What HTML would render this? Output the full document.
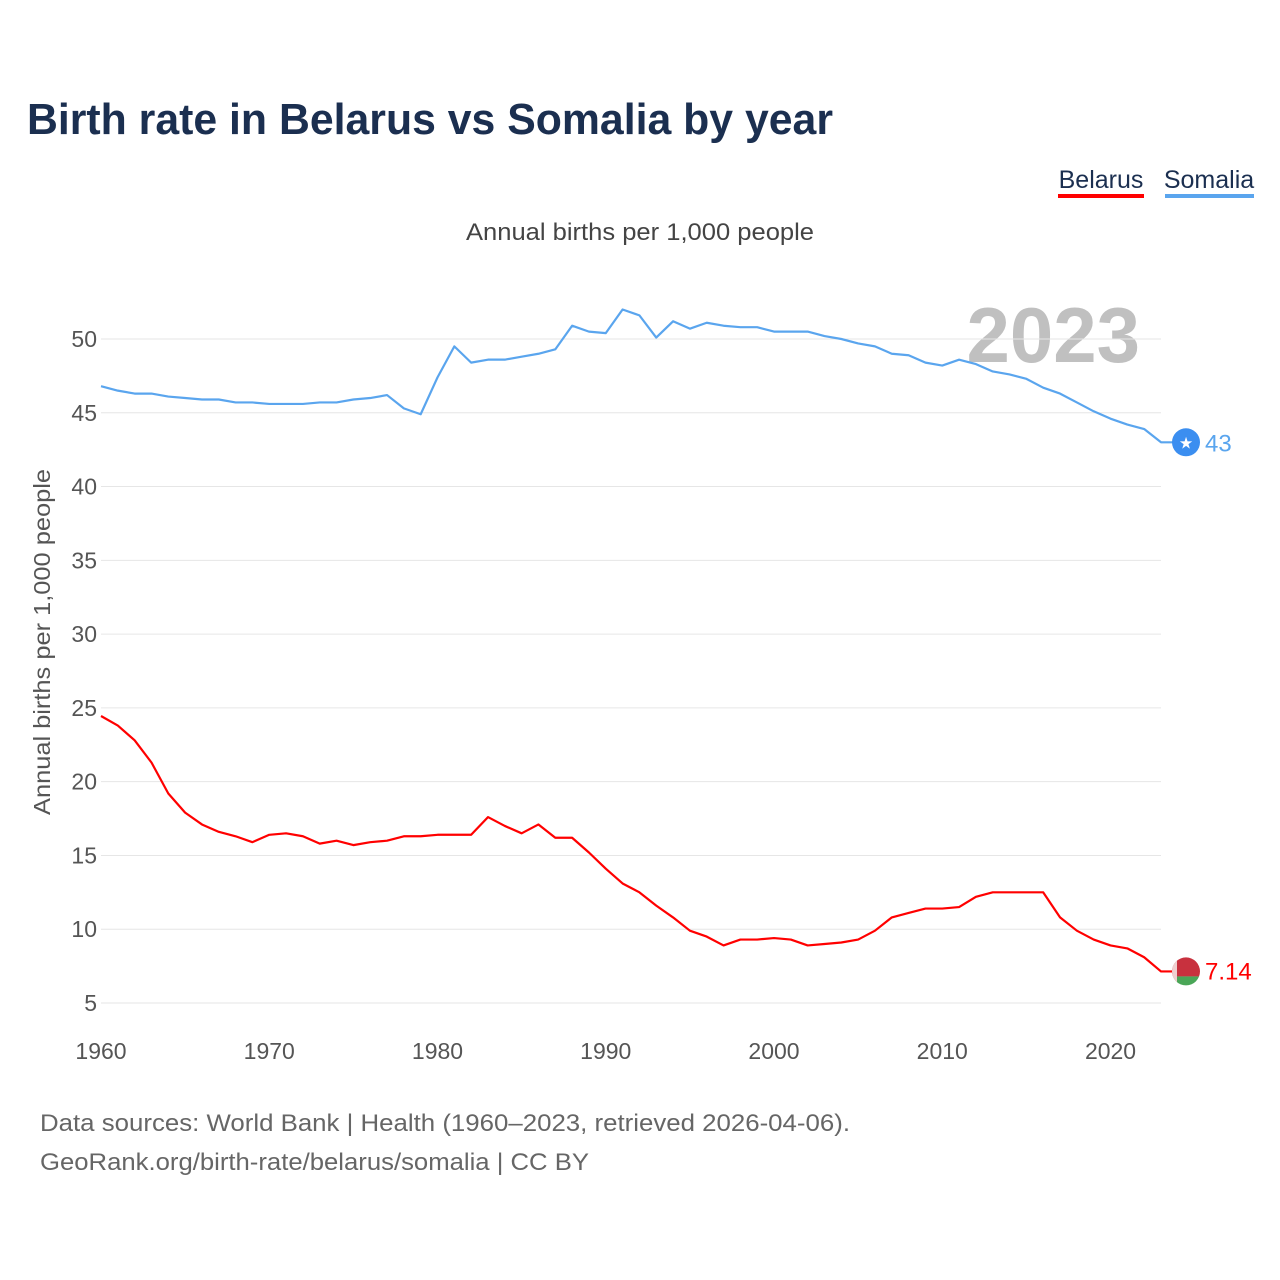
<!DOCTYPE html>
<html><head><meta charset="utf-8"><style>
body{margin:0;background:#fff;font-family:"Liberation Sans",sans-serif}
svg{display:block}
</style></head><body>
<svg id="chart" width="1280" height="1280" font-family="Liberation Sans, sans-serif">
<text x="27" y="134" font-size="44" font-weight="bold" fill="#1b2f50" textLength="806" lengthAdjust="spacingAndGlyphs">Birth rate in Belarus vs Somalia by year</text>
<g><text x="1101" y="188" font-size="25" fill="#1b2f50" text-anchor="middle">Belarus</text><rect x="1058" y="194" width="86" height="4" fill="#ff0000"/></g>
<g><text x="1209" y="188" font-size="25" fill="#1b2f50" text-anchor="middle">Somalia</text><rect x="1165" y="194" width="89" height="4" fill="#5aa5ee"/></g>
<text x="466" y="240" font-size="24" fill="#444" textLength="348" lengthAdjust="spacingAndGlyphs">Annual births per 1,000 people</text>
<text x="1140" y="362" font-size="78" font-weight="bold" fill="#c0c0c0" text-anchor="end">2023</text>
<text transform="translate(50,815) rotate(-90)" font-size="23" fill="#555" textLength="346" lengthAdjust="spacingAndGlyphs">Annual births per 1,000 people</text>
<g id="grid"></g><g id="series"></g>
<text x="40" y="1131" font-size="24" fill="#666" textLength="810" lengthAdjust="spacingAndGlyphs">Data sources: World Bank | Health (1960–2023, retrieved 2026-04-06).</text>
<text x="40" y="1170" font-size="24" fill="#666" textLength="549" lengthAdjust="spacingAndGlyphs">GeoRank.org/birth-rate/belarus/somalia | CC BY</text>
</svg>
<script>
const years=[];for(let y=1960;y<=2023;y++)years.push(y);
const somalia=[46.8,46.5,46.3,46.3,46.1,46.0,45.9,45.9,45.7,45.7,45.6,45.6,45.6,45.7,45.7,45.9,46.0,46.2,45.3,44.9,47.4,49.5,48.4,48.6,48.6,48.8,49.0,49.3,50.9,50.5,50.4,52.0,51.6,50.1,51.2,50.7,51.1,50.9,50.8,50.8,50.5,50.5,50.5,50.2,50.0,49.7,49.5,49.0,48.9,48.4,48.2,48.6,48.3,47.8,47.6,47.3,46.7,46.3,45.7,45.1,44.6,44.2,43.9,43.0];
const belarus=[24.45,23.8,22.8,21.3,19.2,17.9,17.1,16.6,16.3,15.9,16.4,16.5,16.3,15.8,16.0,15.7,15.9,16.0,16.3,16.3,16.4,16.4,16.4,17.6,17.0,16.5,17.1,16.2,16.2,15.2,14.1,13.1,12.5,11.6,10.8,9.9,9.5,8.9,9.3,9.3,9.4,9.3,8.9,9.0,9.1,9.3,9.9,10.8,11.1,11.4,11.4,11.5,12.2,12.5,12.5,12.5,12.5,10.8,9.9,9.3,8.9,8.7,8.1,7.14];
const yTicks=[5,10,15,20,25,30,35,40,45,50];
const xTicks=[1960,1970,1980,1990,2000,2010,2020];
const NS='http://www.w3.org/2000/svg';
const X=y=>101+(y-1960)*(1161-101)/63;
const Y=v=>339+(50-v)*(1003-339)/45;
const grid=document.getElementById('grid'),ser=document.getElementById('series');
function mk(t,a,p){const e=document.createElementNS(NS,t);for(const k in a)e.setAttribute(k,a[k]);p.appendChild(e);return e;}
yTicks.forEach(v=>{
 const l=mk('line',{x1:101,x2:1161,y1:Y(v),y2:Y(v),stroke:'#e6e6e6','stroke-width':1},grid);
 
 
 const t=mk('text',{x:97,y:Y(v)+8,'font-size':23,fill:'#555','text-anchor':'end'},grid);t.textContent=v;
 
 
});
xTicks.forEach(v=>{
 const t=mk('text',{x:X(v),y:1059,'font-size':23,fill:'#555','text-anchor':'middle'},grid);t.textContent=v;
 
 
});
function line(data,color,name){
 const p=mk('polyline',{points:data.map((v,i)=>X(years[i])+','+Y(v)).join(' ')+' '+(X(2023)+12)+','+Y(data[data.length-1]),fill:'none',stroke:color,'stroke-width':2.2,'stroke-linejoin':'round'},ser);
 
 
}
line(somalia,'#5aa5ee','somalia-line');
line(belarus,'#ff0000','belarus-line');
const ls=somalia[somalia.length-1],lb=belarus[belarus.length-1];
const c1=mk('circle',{cx:1186,cy:Y(ls),r:14,fill:'#3b8ef0'},ser);


const st=mk('text',{x:1186,y:Y(ls)+6,'font-size':16,fill:'#fff','text-anchor':'middle'},ser);st.textContent='★';
const v1=mk('text',{x:1205,y:Y(ls)+9,'font-size':24,fill:'#5aa5ee'},ser);v1.textContent=ls;


const cp=mk('clipPath',{id:'bc'},ser);mk('circle',{cx:1186,cy:Y(lb),r:14},cp);
const g=mk('g',{'clip-path':'url(#bc)'},ser);


mk('rect',{x:1170,y:Y(lb)-15,width:32,height:20,fill:'#c8313e'},g);
mk('rect',{x:1170,y:Y(lb)+5,width:32,height:12,fill:'#4aa657'},g);
mk('rect',{x:1172,y:Y(lb)-15,width:5,height:32,fill:'#f0d0d0'},g);
const v2=mk('text',{x:1205,y:Y(lb)+8,'font-size':24,fill:'#ff0000'},ser);v2.textContent=lb;


</script>
</body></html>
